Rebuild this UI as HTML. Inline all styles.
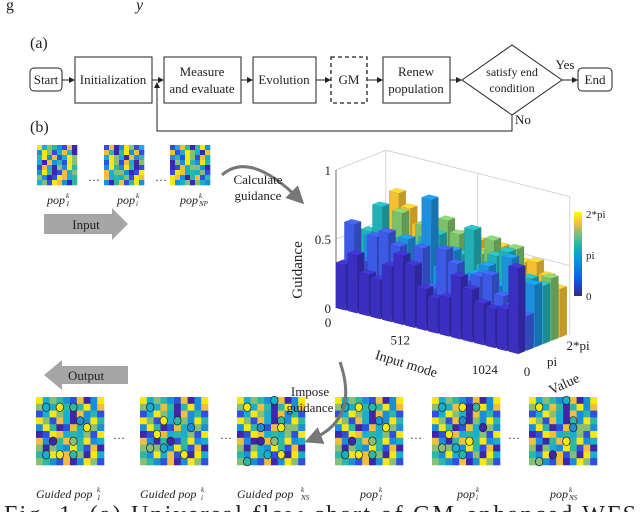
<!DOCTYPE html>
<html><head><meta charset="utf-8"><style>
html,body{margin:0;padding:0;background:#fff;width:640px;height:512px;overflow:hidden}
svg{display:block}
text{font-family:"Liberation Serif",serif;fill:#222}
</style></head><body>
<svg id="fig" width="640" height="512" viewBox="0 0 640 512">
<defs>
<marker id="ar" markerWidth="6" markerHeight="6" refX="5" refY="3" orient="auto"><path d="M0,0 L6,3 L0,6 z" fill="#222"/></marker>
<marker id="ag" markerWidth="6" markerHeight="6" refX="4" refY="3" orient="auto"><path d="M0,0 L6,3 L0,6 z" fill="#777"/></marker>
<linearGradient id="cb" x1="0" y1="1" x2="0" y2="0">
<stop offset="0" stop-color="#352a87"/><stop offset="0.2" stop-color="#0f5cdd"/><stop offset="0.35" stop-color="#1481d6"/><stop offset="0.5" stop-color="#06a4ca"/><stop offset="0.62" stop-color="#2eb7a4"/><stop offset="0.75" stop-color="#87bf77"/><stop offset="0.87" stop-color="#fbbc3d"/><stop offset="1" stop-color="#f9fb0e"/></linearGradient>
</defs>
<text x="6" y="10" font-size="16">g</text>
<text x="136" y="10" font-size="16" font-style="italic">y</text>
<text x="30" y="48" font-size="16">(a)</text>
<g stroke="#222" fill="none" stroke-width="1">
<rect x="30" y="68" width="32" height="23" rx="4"/>
<rect x="75" y="57" width="77" height="46"/>
<rect x="164" y="57" width="77" height="46"/>
<rect x="253" y="57" width="63" height="46"/>
<rect x="331" y="57" width="36" height="46" stroke-dasharray="4,3" stroke-width="1.3"/>
<rect x="383" y="57" width="67" height="46"/>
<polygon points="462,80 512,45 562,80 512,115"/>
<rect x="578" y="68" width="34" height="23" rx="4"/>
<line x1="62" y1="80" x2="74" y2="80" marker-end="url(#ar)"/>
<line x1="152" y1="80" x2="163" y2="80" marker-end="url(#ar)"/>
<line x1="241" y1="80" x2="252" y2="80" marker-end="url(#ar)"/>
<line x1="316" y1="80" x2="330" y2="80" marker-end="url(#ar)"/>
<line x1="367" y1="80" x2="382" y2="80" marker-end="url(#ar)"/>
<line x1="450" y1="80" x2="461" y2="80" marker-end="url(#ar)"/>
<line x1="562" y1="80" x2="577" y2="80" marker-end="url(#ar)"/>
<polyline points="512,115 512,131 157,131 157,83" marker-end="url(#ar)"/>
</g>
<g font-size="13" text-anchor="middle">
<text x="46" y="84">Start</text>
<text x="113" y="84">Initialization</text>
<text x="202" y="76">Measure</text><text x="202" y="93">and evaluate</text>
<text x="284" y="84">Evolution</text>
<text x="349" y="84">GM</text>
<text x="416" y="76">Renew</text><text x="416" y="93">population</text>
<text x="512" y="76" font-size="12">satisfy end</text><text x="512" y="92" font-size="12">condition</text>
<text x="565" y="69">Yes</text>
<text x="595" y="84">End</text>
<text x="523" y="124">No</text>
</g>
<text x="30" y="132" font-size="16">(b)</text>
<g id="mats"></g>
<g font-size="12" font-style="italic">
<text x="47" y="204">pop</text><text x="66" y="198" font-size="7">k</text><text x="66" y="206" font-size="7">1</text>
<text x="117" y="204">pop</text><text x="136" y="198" font-size="7">k</text><text x="136" y="206" font-size="7">i</text>
<text x="180" y="204">pop</text><text x="199" y="198" font-size="7">k</text><text x="199" y="206" font-size="7">NP</text>
<text x="88" y="184" font-style="normal">···</text><text x="155" y="184" font-style="normal">···</text>
</g>
<polygon points="44,214 112,214 112,208 128,224 112,240 112,234 44,234" fill="#a6a6a6"/>
<text x="86" y="229" font-size="13" text-anchor="middle">Input</text>
<polygon points="128,366 62,366 62,360 44,375 62,390 62,384 128,384" fill="#a6a6a6"/>
<text x="86" y="380" font-size="13" text-anchor="middle">Output</text>
<path d="M222,175 Q250,150 300,200" stroke="#777" stroke-width="3" fill="none" marker-end="url(#ag)"/>
<text x="258" y="184" font-size="13" text-anchor="middle">Calculate</text>
<text x="258" y="200" font-size="13" text-anchor="middle">guidance</text>
<path d="M340,362 Q360,420 310,440" stroke="#777" stroke-width="3" fill="none" marker-end="url(#ag)"/>
<text x="310" y="396" font-size="13" text-anchor="middle">Impose</text>
<text x="310" y="412" font-size="13" text-anchor="middle">guidance</text>
<g id="chart"></g>
<g font-size="12" font-style="italic">
<text x="36" y="498">Guided pop</text><text x="97" y="492" font-size="7">k</text><text x="97" y="500" font-size="7">1</text>
<text x="140" y="498">Guided pop</text><text x="201" y="492" font-size="7">k</text><text x="201" y="500" font-size="7">i</text>
<text x="237" y="498">Guided  pop</text><text x="301" y="492" font-size="7">k</text><text x="301" y="500" font-size="7">NS</text>
<text x="360" y="498">pop</text><text x="379" y="492" font-size="7">k</text><text x="379" y="500" font-size="7">1</text>
<text x="457" y="498">pop</text><text x="476" y="492" font-size="7">k</text><text x="476" y="500" font-size="7">i</text>
<text x="550" y="498">pop</text><text x="569" y="492" font-size="7">k</text><text x="569" y="500" font-size="7">NS</text>
<g font-style="normal"><text x="113" y="442">···</text><text x="220" y="442">···</text><text x="410" y="442">···</text><text x="508" y="442">···</text></g>
</g>
<text x="4" y="522" font-size="24" textLength="632">Fig.  1.  (a)  Universal  flow  chart  of  GM-enhanced  WFS</text>
</svg>
<script>
// chart data
const modeTicks = ["0","512","1024"];
const modeTickPos = [0, 0.36, 0.82];
const valueTicks = ["0","pi","2*pi"];
const zTicks = ["0","0.5","1"];
const rowColors = ["#3a2fc0","#3d5ae6","#1d8fdc","#22b0b6","#7cc06a","#f5c030"];
const row0 = [0.33,0.42,0.3,0.28,0.4,0.5,0.45,0.3,0.25,0.28,0.45,0.38,0.3,0.28,0.3,0.62];
const row1 = [0.6,0.35,0.55,0.6,0.52,0.35,0.55,0.28,0.58,0.5,0.4,0.45,0.48,0.35,0.3,0.25];
const row2 = [0.3,0.5,0.45,0.35,0.55,0.3,0.88,0.4,0.55,0.3,0.42,0.5,0.38,0.6,0.3,0.45];
const row3 = [0.5,0.7,0.4,0.5,0.48,0.55,0.6,0.45,0.5,0.7,0.45,0.55,0.6,0.4,0.45,0.42];
const row4 = [0.4,0.45,0.65,0.42,0.6,0.52,0.68,0.6,0.45,0.5,0.62,0.48,0.6,0.4,0.35,0.45];
const row5 = [0.6,0.75,0.66,0.55,0.6,0.62,0.5,0.58,0.55,0.5,0.55,0.5,0.48,0.5,0.42,0.35];
const rows=[row0,row1,row2,row3,row4,row5];
const NS="http://www.w3.org/2000/svg";
const ch=document.getElementById('chart');
const O={x:336,y:308}, MX=11.5, MY=2.9, DX=8.3, DY=-3.3, H=138;
function P(i,j,z){return [O.x+i*MX+j*DX, O.y+i*MY+j*DY-z*H];}
function poly(pts,fill,name){const p=document.createElementNS(NS,'polygon');p.setAttribute('points',pts.map(q=>q.join(',')).join(' '));p.setAttribute('fill',fill);p.setAttribute('stroke','rgba(0,0,0,0.15)');p.setAttribute('stroke-width','0.4');


ch.appendChild(p);return p;}
function line(a,b,c){const l=document.createElementNS(NS,'line');l.setAttribute('x1',a[0]);l.setAttribute('y1',a[1]);l.setAttribute('x2',b[0]);l.setAttribute('y2',b[1]);l.setAttribute('stroke',c||'#ccc');l.setAttribute('stroke-width','0.8');


ch.appendChild(l);}
function txt(x,y,s,sz,rot,anchor){const t=document.createElementNS(NS,'text');t.setAttribute('x',x);t.setAttribute('y',y);t.setAttribute('font-size',sz);if(rot)t.setAttribute('transform',`rotate(${rot} ${x} ${y})`);if(anchor)t.setAttribute('text-anchor',anchor);t.textContent=s;


ch.appendChild(t);}
const N=16,R=6;
line(P(0,R,0),P(0,R,1));line(P(0,R,1),P(N,R,1));line(P(N,R,0),P(N,R,1));line(P(0,0,1),P(0,R,1));
line(P(0,R,0.5),P(N,R,0.5));line(P(0,0,0.5),P(0,R,0.5));
line(P(N/2,R,0),P(N/2,R,1));
line(P(0,0,0),P(0,0,1),'#444');
function shade(c,f){const n=parseInt(c.slice(1),16);let r=n>>16,g=(n>>8)&255,b=n&255;return `rgb(${Math.min(255,Math.round(r*f))},${Math.min(255,Math.round(g*f))},${Math.min(255,Math.round(b*f))})`;}
for(let j=R-1;j>=0;j--){for(let i=0;i<N;i++){const h=rows[j][i],c=rowColors[j],w=0.85,d=0.85;
 const a=P(i,j,0),b=P(i+w,j,0),bd=P(i+w,j+d,0),at=P(i,j,h),bt=P(i+w,j,h),bdt=P(i+w,j+d,h),adt=P(i,j+d,h);
 poly([bd,b,bt,bdt],shade(c,0.8),'bar-side');
 poly([a,b,bt,at],c,'bar-'+j+'-'+i);
 poly([at,bt,bdt,adt],shade(c,1.15),'bar-top');}}
zTicks.forEach((t,k)=>{const p=P(0,0,k*0.5);txt(p[0]-5,p[1]+5,t,13,0,'end');});
txt(328,327,"0",13,0,'middle');
modeTicks.forEach((t,k)=>{if(!k)return;const p=P(modeTickPos[k]*N,0,0);txt(p[0]-2,p[1]+(k==1?20:28),t,13,0,'middle');});
const vpos=[[527,376],[552,366],[578,350]];
valueTicks.forEach((t,k)=>{txt(vpos[k][0],vpos[k][1],t,13,0,'middle');});
txt(302,270,"Guidance",15,-90,'middle');
txt(405,368,"Input mode",14,17,'middle');
txt(566,388,"Value",14,-25,'middle');
const cb=document.createElementNS(NS,'rect');cb.setAttribute('x',574);cb.setAttribute('y',212);cb.setAttribute('width',8);cb.setAttribute('height',84);cb.setAttribute('fill','url(#cb)');


ch.appendChild(cb);
valueTicks.forEach((t,k)=>txt(586,300-k*41,t,11,0,'start'));

// matrices
const pal=["#3e26a8","#2f4fe0","#1a8ed8","#19aece","#2eb7a4","#87bf77","#f1bf3b","#f9e80f"];
const pattern="7354216027513640472613753062417516305274274016355201763435176204614723505327416042736150";
const circles=[[[1,1],[3,1],[5,1],[6,3],[7,4],[2,6],[5,6],[1,8],[3,8],[5,8]],[[1,1],[3,3],[5,3],[7,4],[2,5],[4,6],[1,7],[3,7],[6,8]],[[5,0],[1,1],[6,3],[3,4],[6,4],[3,6],[5,6],[4,8],[6,8],[1,9]],[[1,1],[3,1],[5,1],[6,3],[7,4],[2,6],[5,6],[1,8],[3,8],[5,8]],[[1,1],[4,1],[6,1],[4,3],[2,5],[7,4],[1,7],[3,7],[5,6],[4,8]],[[5,0],[1,1],[6,3],[6,4],[5,6],[3,8],[1,9]]];
const mg=document.getElementById('mats');
function mat(x,y,s,n,off,circ,name){const g=document.createElementNS(NS,'g');
 
 
 const cs=s/n;for(let r=0;r<n;r++)for(let c=0;c<n;c++){const v=+pattern[(r*n+c+off)%pattern.length];const q=document.createElementNS(NS,'rect');q.setAttribute('x',x+c*cs);q.setAttribute('y',y+r*cs);q.setAttribute('width',cs+0.3);q.setAttribute('height',cs+0.3);q.setAttribute('fill',pal[v]);g.appendChild(q);}
 if(circ)circ.forEach(([cx,cy],k)=>{const e=document.createElementNS(NS,'ellipse');e.setAttribute('cx',x+cx*cs+cs/2);e.setAttribute('cy',y+cy*cs+cs/2);e.setAttribute('rx',cs*0.55);e.setAttribute('ry',cs*0.62);e.setAttribute('fill',pal[[3,7,4,2,7,0,5][k%7]]);e.setAttribute('stroke','#222');e.setAttribute('stroke-width','0.7');g.appendChild(e);});
 mg.appendChild(g);}
mat(37,145,40,8,0,null,'input-matrix-1');mat(104,145,40,8,5,null,'input-matrix-i');mat(170,145,40,8,11,null,'input-matrix-np');
const bx=[36,140,237,335,432,529];
bx.forEach((x,k)=>mat(x,397,68,10,0,circles[k],'output-matrix-'+(k+1)));
</script>
</body></html>
